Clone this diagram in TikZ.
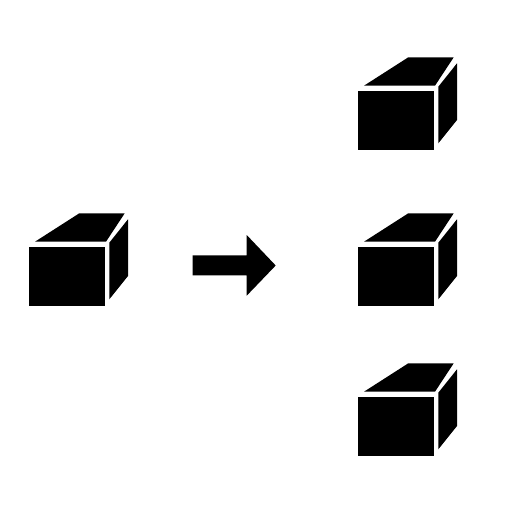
\documentclass[tikz,border=0pt]{standalone}
\usetikzlibrary{positioning}

\tikzset{
  solid face/.style={fill=black,draw=none},
  cube/.pic={
    \fill[solid face] (0,0) rectangle (76,59.3);
    \fill[solid face] (6.5,-5) -- (50.8,-33.4) -- (96.2,-33.4) -- (77.5,-5) -- cycle;
    \fill[solid face] (80.8,-4) -- (99.5,-27.4) -- (99.5,29.3) -- (80.8,52.6) -- cycle;
  }
}

\begin{document}
\begin{tikzpicture}[x=1pt,y=-1pt]
  \useasboundingbox (0,0) rectangle (512,512);

  \pic at (28.5,246.7) {cube};
  \foreach \y in {90.7,246.7,396.7}{\pic at (357.5,\y) {cube};}

  \fill[solid face] (192.7,255.3) -- (246.7,255.3) -- (246.7,235) -- (275.7,265.5)
    -- (246.7,295.7) -- (246.7,275.3) -- (192.7,275.3) -- cycle;
\end{tikzpicture}
\end{document}
